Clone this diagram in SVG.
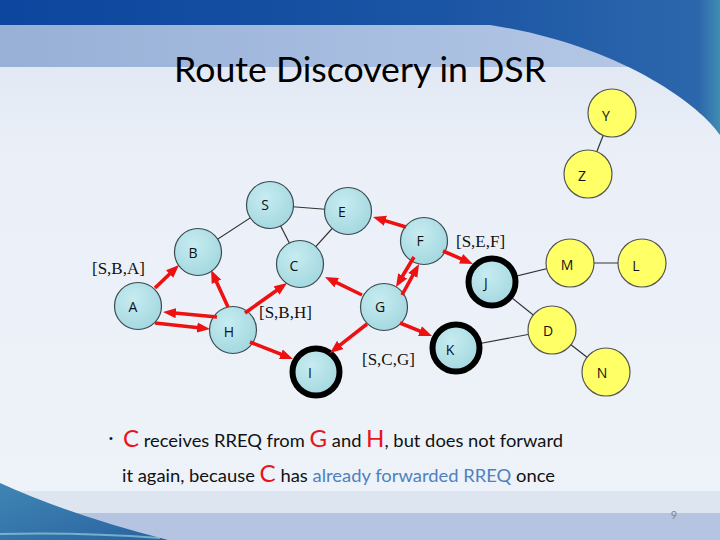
<svg xmlns="http://www.w3.org/2000/svg" width="720" height="540" viewBox="0 0 720 540">
<defs>
<linearGradient id="bg" x1="0" y1="0" x2="0" y2="1">
<stop offset="0" stop-color="#dce4f1"/>
<stop offset="0.3" stop-color="#ebf0f8"/>
<stop offset="1" stop-color="#eef2f9"/>
</linearGradient>
<linearGradient id="band" x1="0" y1="0" x2="1" y2="0">
<stop offset="0" stop-color="#98b0d6"/>
<stop offset="0.5" stop-color="#a6bde0"/>
<stop offset="1" stop-color="#b8cae6"/>
</linearGradient>
<linearGradient id="dark" x1="0" y1="0" x2="1" y2="0">
<stop offset="0" stop-color="#0c469e"/>
<stop offset="0.6" stop-color="#1a54a4"/>
<stop offset="0.97" stop-color="#2c67ac"/>
<stop offset="1" stop-color="#3f8db4"/>
</linearGradient>
<linearGradient id="swoosh" x1="0" y1="0" x2="1" y2="1">
<stop offset="0" stop-color="#3f86b4"/>
<stop offset="1" stop-color="#2a62a0"/>
</linearGradient>
<radialGradient id="water" cx="0.4" cy="0.35" r="0.7">
<stop offset="0" stop-color="#c6ecf1"/>
<stop offset="1" stop-color="#a3d7df"/>
</radialGradient>
<marker id="ah" markerUnits="userSpaceOnUse" viewBox="0 0 13 11" markerWidth="13" markerHeight="11" refX="4" refY="5.5" orient="auto">
<path d="M0,0.3 L13,5.5 L0,10.7 Z" fill="#ee1111"/>
</marker>
<style>
.blue{fill:url(#water);stroke:#3a4a50;stroke-width:1.2}
.ring{fill:url(#water);stroke:#000;stroke-width:6}
.yel{fill:#ffff66;stroke:#555;stroke-width:1.2}
.lbl{font-family:"Open Sans","DejaVu Sans",sans-serif;font-size:14px;fill:#111;text-anchor:middle}
.edge{stroke:#333;stroke-width:1.2;fill:none}
.arr{stroke:#ee1111;stroke-width:3.6;fill:none;marker-end:url(#ah)}
.path{font-family:"Liberation Serif","Times New Roman",serif;font-size:17px;fill:#111}
.body{font-family:Lato,"Open Sans",sans-serif;font-size:17.5px;fill:#111}
.big{font-size:23px;fill:#e8141e}
.hl{fill:#4f81bd}
</style>
</defs>

<!-- background -->
<rect x="0" y="0" width="720" height="540" fill="url(#bg)"/>
<rect x="0" y="25" width="720" height="42" fill="url(#band)"/>
<path d="M0,0 H720 V135 C700,105 620,45 490,25 H0 Z" fill="url(#dark)"/>
<rect x="0" y="491" width="720" height="22" fill="#dde5f1"/>
<rect x="0" y="513" width="720" height="27" fill="#b5c5e1"/>
<path d="M0,483 Q70,515 168,540 L0,540 Z" fill="url(#swoosh)"/>
<path d="M0,534 Q80,532 160,538" stroke="#8fd0d8" stroke-width="2" fill="none" opacity="0.7"/>

<text x="174" y="82" font-family="Lato,'Open Sans',sans-serif" font-size="34" fill="#000" textLength="372" lengthAdjust="spacingAndGlyphs">Route Discovery in DSR</text>

<g id="connectors">
<line class="edge" x1="270" y1="205" x2="198" y2="252"/>
<line class="edge" x1="270" y1="205" x2="348" y2="211"/>
<line class="edge" x1="270" y1="205" x2="300" y2="264"/>
<line class="edge" x1="348" y1="211" x2="300" y2="264"/>
<line class="edge" x1="492" y1="282" x2="570" y2="263"/>
<line class="edge" x1="492" y1="282" x2="552" y2="330"/>
<line class="edge" x1="456" y1="348" x2="552" y2="330"/>
<line class="edge" x1="570" y1="263" x2="642" y2="263"/>
<line class="edge" x1="552" y1="330" x2="606" y2="372"/>
<line class="edge" x1="612" y1="113" x2="588" y2="174"/>
</g>

<g id="node-S"><circle class="blue" cx="270" cy="205" r="23.5"/><text class="lbl" x="265" y="210">S</text></g>
<g id="node-B"><circle class="blue" cx="198" cy="252" r="23.5"/><text class="lbl" x="193" y="258">B</text></g>
<g id="node-A"><circle class="blue" cx="138" cy="306" r="23.5"/><text class="lbl" x="133" y="312">A</text></g>
<g id="node-H"><circle class="blue" cx="233" cy="330" r="23.5"/><text class="lbl" x="229" y="337">H</text></g>
<g id="node-C"><circle class="blue" cx="300" cy="264" r="23.5"/><text class="lbl" x="294" y="271">C</text></g>
<g id="node-E"><circle class="blue" cx="348" cy="211" r="23.5"/><text class="lbl" x="342" y="217">E</text></g>
<g id="node-F"><circle class="blue" cx="424" cy="241" r="23.5"/><text class="lbl" x="420" y="246">F</text></g>
<g id="node-G"><circle class="blue" cx="384" cy="307" r="23.5"/><text class="lbl" x="380" y="312">G</text></g>
<g id="node-I"><circle class="ring" cx="316" cy="372" r="23.5"/><text class="lbl" x="310" y="378">I</text></g>
<g id="node-J"><circle class="ring" cx="492" cy="282" r="23.5"/><text class="lbl" x="486" y="288">J</text></g>
<g id="node-K"><circle class="ring" cx="456" cy="348" r="23.5"/><text class="lbl" x="450" y="355">K</text></g>
<g id="node-Y"><circle class="yel" cx="612" cy="113" r="24"/><text class="lbl" x="606" y="121">Y</text></g>
<g id="node-Z"><circle class="yel" cx="588" cy="174" r="24"/><text class="lbl" x="582" y="181">Z</text></g>
<g id="node-M"><circle class="yel" cx="570" cy="263" r="24"/><text class="lbl" x="567" y="270">M</text></g>
<g id="node-L"><circle class="yel" cx="642" cy="263" r="24"/><text class="lbl" x="636" y="271">L</text></g>
<g id="node-D"><circle class="yel" cx="552" cy="330" r="24"/><text class="lbl" x="548" y="336">D</text></g>
<g id="node-N"><circle class="yel" cx="606" cy="372" r="24"/><text class="lbl" x="602" y="378">N</text></g>

<g id="rreq-arrows">
<line class="arr" x1="155" y1="288" x2="172.5" y2="271.2"/>
<line class="arr" x1="228" y1="307" x2="214.8" y2="278.2"/>
<line class="arr" x1="217" y1="317" x2="172" y2="312.8"/>
<line class="arr" x1="155" y1="323" x2="201.1" y2="328"/>
<line class="arr" x1="245" y1="313" x2="279.7" y2="288.2"/>
<line class="arr" x1="250" y1="342" x2="284.6" y2="355.7"/>
<line class="arr" x1="406" y1="227" x2="381.6" y2="219.6"/>
<line class="arr" x1="362" y1="295" x2="333.1" y2="280.9"/>
<line class="arr" x1="414" y1="257" x2="400.6" y2="279.3"/>
<line class="arr" x1="402" y1="295" x2="414.7" y2="271.9"/>
<line class="arr" x1="443" y1="251" x2="464.7" y2="260.4"/>
<line class="arr" x1="400" y1="323" x2="423.7" y2="332.6"/>
<line class="arr" x1="367" y1="324" x2="337.1" y2="347.4"/>
</g>

<g id="route-labels">
<text class="path" x="92" y="274">[S,B,A]</text>
<text class="path" x="259" y="318">[S,B,H]</text>
<text class="path" x="456" y="247">[S,E,F]</text>
<text class="path" x="362" y="365">[S,C,G]</text>
</g>

<text x="109" y="442" font-family="'Liberation Sans',sans-serif" font-size="11" fill="#111">•</text>
<text class="body" x="123" y="447" textLength="440" lengthAdjust="spacingAndGlyphs"><tspan class="big">C</tspan> receives RREQ from <tspan class="big">G</tspan> and <tspan class="big">H</tspan>, but does not forward</text>
<text class="body" x="122" y="482" textLength="433" lengthAdjust="spacingAndGlyphs">it again, because <tspan class="big">C</tspan> has <tspan class="hl">already forwarded RREQ</tspan> once</text>

<text x="674" y="519" font-family="Lato,sans-serif" font-size="11" fill="#888" text-anchor="middle">9</text>
</svg>
